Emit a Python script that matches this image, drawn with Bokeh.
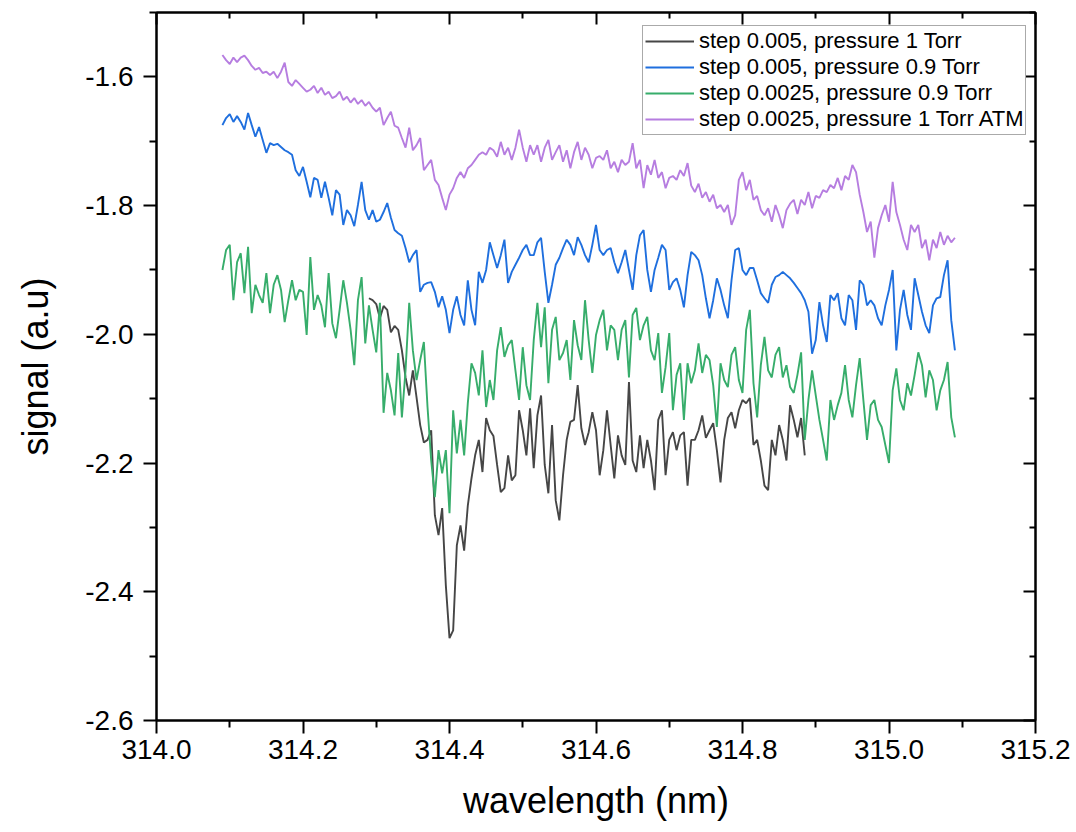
import numpy as np
from bokeh.plotting import figure
from bokeh.models import LinearAxis, FixedTicker, NumeralTickFormatter, Legend, LegendItem, ColumnDataSource
from bokeh.embed import file_html
from bokeh.resources import INLINE

# wavelength sampling grids (nm)
wl_start = 314.09
wl_step = 0.005
black_start = 314.29

x_ticks = [314.0, 314.2, 314.4, 314.6, 314.8, 315.0, 315.2]
x_minor = [314.1, 314.3, 314.5, 314.7, 314.9, 315.1]
y_ticks = [-2.6, -2.4, -2.2, -2.0, -1.8, -1.6]
y_minor = [-2.5, -2.3, -2.1, -1.9, -1.7, -1.5]

labels = ["step 0.005, pressure 1 Torr",
          "step 0.005, pressure 0.9 Torr",
          "step 0.0025, pressure 0.9 Torr",
          "step 0.0025, pressure 1 Torr ATM"]
colors = ["#464646", "#1f6fde", "#37ad6b", "#b67de0"]

purple_sig = [
 -1.566, -1.574, -1.580, -1.570, -1.577, -1.570, -1.567, -1.574, -1.583, -1.589,
 -1.586, -1.594, -1.592, -1.597, -1.592, -1.602, -1.592, -1.578, -1.608, -1.614,
 -1.605, -1.611, -1.617, -1.623, -1.620, -1.614, -1.625, -1.617, -1.628, -1.623,
 -1.633, -1.630, -1.623, -1.636, -1.631, -1.640, -1.633, -1.642, -1.636, -1.645,
 -1.639, -1.648, -1.654, -1.648, -1.675, -1.664, -1.654, -1.676, -1.679, -1.695,
 -1.710, -1.679, -1.714, -1.706, -1.695, -1.745, -1.737, -1.729, -1.760, -1.768,
 -1.788, -1.807, -1.783, -1.773, -1.757, -1.748, -1.757, -1.742, -1.737, -1.729,
 -1.721, -1.717, -1.721, -1.710, -1.714, -1.724, -1.701, -1.721, -1.710, -1.729,
 -1.710, -1.682, -1.710, -1.732, -1.706, -1.721, -1.706, -1.732, -1.710, -1.698,
 -1.729, -1.717, -1.706, -1.732, -1.714, -1.742, -1.717, -1.701, -1.729, -1.710,
 -1.721, -1.742, -1.726, -1.723, -1.729, -1.714, -1.742, -1.732, -1.748, -1.729,
 -1.737, -1.732, -1.703, -1.742, -1.729, -1.773, -1.737, -1.752, -1.729, -1.757,
 -1.748, -1.773, -1.757, -1.754, -1.760, -1.745, -1.754, -1.734, -1.769, -1.779,
 -1.766, -1.788, -1.779, -1.794, -1.783, -1.804, -1.799, -1.810, -1.799, -1.830,
 -1.815, -1.760, -1.748, -1.776, -1.760, -1.791, -1.785, -1.807, -1.815, -1.804,
 -1.825, -1.799, -1.815, -1.835, -1.807, -1.797, -1.791, -1.813, -1.791, -1.799,
 -1.779, -1.804, -1.785, -1.788, -1.776, -1.779, -1.768, -1.773, -1.757, -1.776,
 -1.754, -1.760, -1.737, -1.748, -1.783, -1.810, -1.841, -1.825, -1.881, -1.835,
 -1.815, -1.799, -1.825, -1.763, -1.810, -1.830, -1.853, -1.869, -1.830, -1.841,
 -1.830, -1.866, -1.853, -1.885, -1.853, -1.866, -1.841, -1.861, -1.847, -1.857,
 -1.850]

green_sig = [
 -1.900, -1.869, -1.861, -1.947, -1.888, -1.874, -1.936, -1.864, -1.967, -1.923,
 -1.939, -1.951, -1.905, -1.967, -1.923, -1.908, -1.931, -1.981, -1.947, -1.916,
 -1.947, -1.931, -1.934, -2.001, -1.880, -1.962, -1.939, -1.955, -1.989, -1.905,
 -1.983, -2.006, -1.962, -1.916, -1.951, -1.993, -2.048, -1.947, -1.911, -2.014,
 -1.955, -1.993, -2.028, -1.951, -2.122, -2.060, -2.087, -2.126, -2.029, -2.129,
 -2.056, -1.951, -2.025, -2.071, -2.040, -2.012, -2.113, -2.196, -2.253, -2.180,
 -2.216, -2.180, -2.278, -2.118, -2.185, -2.133, -2.188, -2.107, -2.045, -2.060,
 -2.095, -2.025, -2.113, -2.071, -2.102, -2.025, -1.989, -2.035, -2.017, -2.009,
 -2.056, -2.102, -2.020, -2.079, -2.102, -2.009, -1.951, -2.020, -1.958, -2.076,
 -1.993, -1.973, -2.040, -2.029, -2.009, -2.071, -1.978, -2.017, -2.040, -1.947,
 -2.009, -2.060, -2.001, -1.978, -1.962, -2.025, -1.986, -1.993, -2.040, -1.993,
 -1.978, -2.067, -1.970, -1.959, -2.009, -1.986, -1.973, -2.025, -2.040, -1.998,
 -2.091, -2.051, -1.998, -2.118, -2.063, -2.045, -2.133, -2.045, -2.076, -2.056,
 -2.014, -2.060, -2.032, -2.040, -2.079, -2.144, -2.045, -2.071, -2.082, -2.032,
 -2.020, -2.071, -2.091, -1.993, -1.962, -2.076, -2.129, -2.048, -2.004, -2.056,
 -2.067, -2.032, -2.020, -2.067, -2.048, -2.082, -2.091, -2.063, -2.028, -2.164,
 -2.102, -2.056, -2.095, -2.133, -2.164, -2.196, -2.102, -2.133, -2.110, -2.091,
 -2.048, -2.102, -2.129, -2.079, -2.037, -2.102, -2.164, -2.110, -2.102, -2.133,
 -2.144, -2.172, -2.200, -2.087, -2.053, -2.102, -2.118, -2.076, -2.095, -2.063,
 -2.028, -2.048, -2.098, -2.056, -2.071, -2.118, -2.087, -2.071, -2.043, -2.129,
 -2.160]

blue_sig = [
 -1.675, -1.664, -1.658, -1.670, -1.661, -1.670, -1.682, -1.656, -1.675, -1.693,
 -1.678, -1.698, -1.718, -1.703, -1.706, -1.704, -1.709, -1.714, -1.717, -1.721,
 -1.745, -1.754, -1.740, -1.763, -1.787, -1.757, -1.760, -1.788, -1.763, -1.788,
 -1.815, -1.776, -1.783, -1.830, -1.807, -1.815, -1.832, -1.799, -1.763, -1.807,
 -1.822, -1.807, -1.825, -1.822, -1.810, -1.796, -1.819, -1.838, -1.843, -1.847,
 -1.866, -1.888, -1.877, -1.869, -1.934, -1.923, -1.920, -1.919, -1.934, -1.958,
 -1.941, -1.962, -1.998, -1.962, -1.941, -1.970, -1.986, -1.916, -1.962, -1.986,
 -1.903, -1.920, -1.900, -1.857, -1.877, -1.897, -1.877, -1.853, -1.920, -1.903,
 -1.892, -1.881, -1.869, -1.861, -1.877, -1.877, -1.857, -1.850, -1.903, -1.951,
 -1.923, -1.892, -1.881, -1.866, -1.853, -1.861, -1.877, -1.849, -1.861, -1.877,
 -1.888, -1.861, -1.830, -1.869, -1.877, -1.869, -1.866, -1.888, -1.905, -1.888,
 -1.869, -1.900, -1.931, -1.877, -1.846, -1.838, -1.900, -1.934, -1.900, -1.881,
 -1.861, -1.869, -1.931, -1.919, -1.913, -1.931, -1.958, -1.908, -1.872, -1.877,
 -1.885, -1.908, -1.944, -1.975, -1.947, -1.913, -1.931, -1.955, -1.975, -1.916,
 -1.869, -1.866, -1.900, -1.908, -1.897, -1.897, -1.916, -1.936, -1.944, -1.951,
 -1.923, -1.911, -1.908, -1.903, -1.908, -1.913, -1.920, -1.928, -1.936, -1.947,
 -1.965, -2.030, -2.009, -1.950, -1.986, -2.012, -1.939, -1.947, -1.936, -1.975,
 -1.986, -1.939, -1.947, -1.993, -1.916, -1.923, -1.955, -1.947, -1.955, -1.975,
 -1.986, -1.955, -1.931, -1.900, -2.025, -1.962, -1.931, -1.970, -1.993, -1.913,
 -1.939, -1.965, -1.986, -1.998, -1.955, -1.944, -1.942, -1.908, -1.885, -1.978,
 -2.025]

black_sig = [
 -1.944, -1.947, -1.953, -1.975, -1.956, -1.962, -1.997, -1.987, -1.993, -2.025,
 -2.067, -2.095, -2.056, -2.098, -2.141, -2.168, -2.164, -2.149, -2.281, -2.312,
 -2.270, -2.390, -2.472, -2.460, -2.328, -2.297, -2.336, -2.266, -2.224, -2.188,
 -2.164, -2.214, -2.130, -2.149, -2.158, -2.203, -2.245, -2.239, -2.188, -2.227,
 -2.219, -2.118, -2.149, -2.188, -2.115, -2.208, -2.126, -2.095, -2.203, -2.247,
 -2.141, -2.258, -2.289, -2.219, -2.164, -2.136, -2.133, -2.079, -2.146, -2.172,
 -2.152, -2.121, -2.149, -2.219, -2.180, -2.118, -2.172, -2.224, -2.157, -2.188,
 -2.203, -2.074, -2.196, -2.214, -2.157, -2.208, -2.164, -2.196, -2.242, -2.133,
 -2.118, -2.219, -2.164, -2.152, -2.180, -2.157, -2.152, -2.235, -2.164, -2.164,
 -2.149, -2.126, -2.161, -2.149, -2.138, -2.180, -2.230, -2.164, -2.130, -2.121,
 -2.146, -2.118, -2.102, -2.107, -2.099, -2.172, -2.164, -2.196, -2.235, -2.242,
 -2.164, -2.188, -2.141, -2.164, -2.196, -2.110, -2.133, -2.160, -2.130, -2.188]

wl_main = np.round(wl_start + wl_step * np.arange(len(purple_sig)), 4)
wl_black = np.round(black_start + wl_step * np.arange(len(black_sig)), 4)

FONT = "Liberation Sans"

p = figure(width=1076, height=832, frame_width=879, frame_height=708,
           x_range=(314.0, 315.2), y_range=(-2.6, -1.5),
           output_backend="svg", toolbar_location=None,
           min_border_left=156, min_border_right=41, min_border_top=12, min_border_bottom=112,
           background_fill_color="white", border_fill_color="white")
p.xgrid.visible = False
p.ygrid.visible = False
p.outline_line_color = "black"
p.outline_line_width = 2

series = [(wl_black, black_sig), (wl_main, blue_sig), (wl_main, green_sig), (wl_main, purple_sig)]
items = []
for (xs, ys), lab, col in zip(series, labels, colors):
    src = ColumnDataSource(dict(x=xs, y=ys))
    r = p.line("x", "y", source=src, line_color=col, line_width=1.9)
    items.append(LegendItem(label=lab, renderers=[r]))

def style_main(ax, label, standoff, label_standoff):
    ax.axis_label = label
    ax.axis_label_text_font = FONT
    ax.axis_label_text_font_size = "36px"
    ax.axis_label_text_font_style = "normal"
    ax.axis_label_text_color = "black"
    ax.axis_label_standoff = standoff
    ax.major_label_text_font = FONT
    ax.major_label_text_font_size = "28px"
    ax.major_label_text_color = "black"
    ax.major_label_standoff = label_standoff
    ax.formatter = NumeralTickFormatter(format="0.0")
    ax.axis_line_width = 2
    ax.major_tick_line_width = 2
    ax.minor_tick_line_width = 2
    ax.major_tick_out = 13
    ax.major_tick_in = 0
    ax.minor_tick_out = 7
    ax.minor_tick_in = 0

p.xaxis.ticker = FixedTicker(ticks=x_ticks, minor_ticks=x_minor)
p.yaxis.ticker = FixedTicker(ticks=y_ticks, minor_ticks=y_minor)
style_main(p.xaxis[0], "wavelength (nm)", 18, 6)
style_main(p.yaxis[0], "signal (a.u)", 26, 10)

top = LinearAxis(ticker=FixedTicker(ticks=x_ticks, minor_ticks=x_minor))
right = LinearAxis(ticker=FixedTicker(ticks=y_ticks, minor_ticks=y_minor))
for ax in (top, right):
    ax.major_label_text_color = None
    ax.major_label_text_font_size = "0px"
    ax.major_label_standoff = 0
    ax.axis_line_width = 2
    ax.major_tick_line_width = 2
    ax.minor_tick_line_width = 2
    ax.major_tick_in = 12
    ax.major_tick_out = 0
    ax.minor_tick_in = 6
    ax.minor_tick_out = 0
p.add_layout(top, "above")
p.add_layout(right, "right")

legend = Legend(items=items, location=(486, 585))
legend.label_text_font = FONT
legend.label_text_font_size = "22px"
legend.label_text_color = "black"
legend.glyph_width = 49
legend.glyph_height = 26
legend.label_height = 26
legend.label_standoff = 5
legend.spacing = 0
legend.padding = 2
legend.margin = 0
legend.border_line_color = "#555555"
legend.border_line_width = 1.5
legend.background_fill_color = "white"
legend.background_fill_alpha = 1.0
p.add_layout(legend, "center")

open("out.html", "w").write(file_html(p, INLINE))
